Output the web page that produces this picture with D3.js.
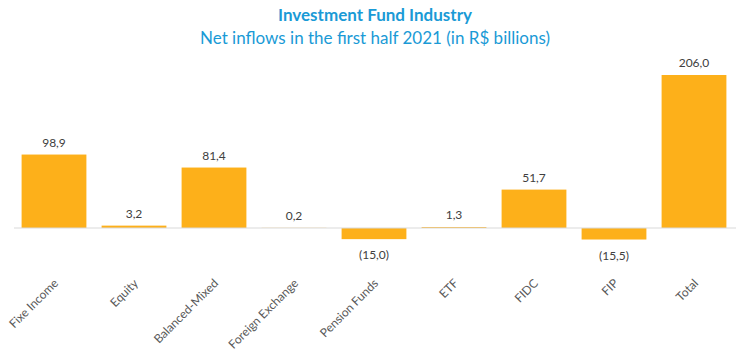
<!DOCTYPE html>
<html><head><meta charset="utf-8">
<script src="https://cdn.jsdelivr.net/npm/d3@7"></script>
<style>body{margin:0;background:#fff}svg{display:block}</style>
</head><body>
<svg id="c" width="750" height="355"></svg>
<script>
const categories = ["Fixe Income","Equity","Balanced-Mixed","Foreign Exchange","Pension Funds","ETF","FIDC","FIP","Total"];
const values = [98.9, 3.2, 81.4, 0.2, -15.0, 1.3, 51.7, -15.5, 206.0];
const titleText = "Investment Fund Industry";
const subtitleText = "Net inflows in the first half 2021 (in R$ billions)";

const svg = d3.select("#c");
const font = "Lato, 'Open Sans', sans-serif";

const x = d3.scaleBand().domain(categories).range([14, 734]).paddingInner(0.19).paddingOuter(0.095);
const y = d3.scaleLinear().domain([0, 206]).range([228, 75]);

const fmt = v => {
  const s = Math.abs(v).toFixed(1).replace(".", ",");
  return v < 0 ? "(" + s + ")" : s;
};

svg.append("text").attr("x", 375).attr("y", 21).attr("text-anchor", "middle")
  .attr("font-family", font).attr("font-weight", "bold").attr("font-size", 17).attr("fill", "#1a9ad6").text(titleText);
svg.append("text").attr("x", 375).attr("y", 44).attr("text-anchor", "middle")
  .attr("font-family", font).attr("font-size", 17).attr("fill", "#1a9ad6").text(subtitleText);

svg.append("g").selectAll("rect").data(values).join("rect")
  .attr("x", (d, i) => x(categories[i]))
  .attr("width", x.bandwidth())
  .attr("y", d => y(Math.max(0, d)))
  .attr("height", d => Math.abs(y(d) - y(0)))
  .attr("fill", "#fdb01a");

svg.append("line").attr("x1", 14).attr("x2", 736).attr("y1", y(0)).attr("y2", y(0))
  .attr("stroke", "#d9d9d9").attr("stroke-width", 1);

svg.append("g").selectAll("text").data(values).join("text")
  .attr("x", (d, i) => x(categories[i]) + x.bandwidth() / 2)
  .attr("y", d => d >= 0 ? y(d) - 8 : y(d) + 20)
  .attr("text-anchor", "middle")
  .attr("font-family", font).attr("font-size", 12).attr("fill", "#404040")
  .text(d => fmt(d));

svg.append("g").selectAll("text").data(categories).join("text")
  .attr("transform", d => `translate(${x(d) + x.bandwidth() / 2 + 5},${y(0) + 56}) rotate(-45)`)
  .attr("text-anchor", "end")
  .attr("font-family", font).attr("font-size", 12).attr("fill", "#595959")
  .text(d => d);
</script>
</body></html>
